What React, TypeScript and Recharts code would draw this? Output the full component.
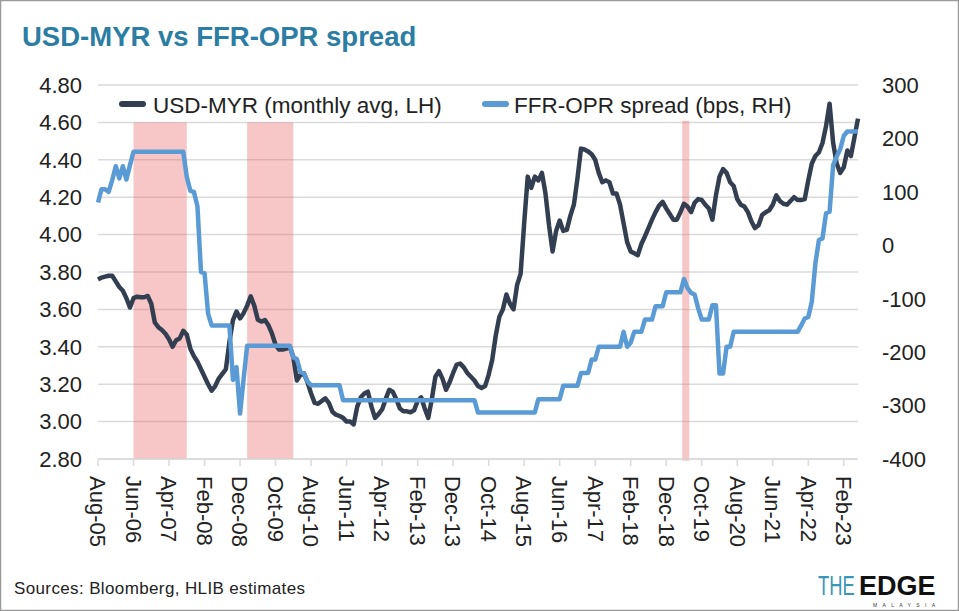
import { LineChart, Line, XAxis, YAxis, CartesianGrid, ReferenceArea } from "recharts";

const FONT = "'Liberation Sans', Arial, Helvetica, sans-serif";
const DARK = "#333f50";
const BLUE = "#5b9bd5";
const TEAL = "#2b7da3";
const TEXT = "#222222";
const GRID = "#dadada";
const SHADE = "#e86464";

// monthly categories, Aug-05 .. Jun-23
const monthNames = ["Jan", "Feb", "Mar", "Apr", "May", "Jun", "Jul", "Aug", "Sep", "Oct", "Nov", "Dec"];
const months: string[] = Array.from({ length: 215 }, (_, i) => {
  const m = (7 + i) % 12;
  const y = 5 + Math.floor((7 + i) / 12);
  return `${monthNames[m]}-${String(y).padStart(2, "0")}`;
});

// USD-MYR monthly average (left axis), one row per Aug..Jul year
const usdMyr = [
  3.76, 3.77, 3.775, 3.78, 3.78, 3.75, 3.72, 3.70, 3.66, 3.61, 3.66, 3.668,
  3.665, 3.665, 3.672, 3.63, 3.53, 3.505, 3.49, 3.47, 3.44, 3.40, 3.435, 3.445,
  3.485, 3.465, 3.39, 3.35, 3.32, 3.28, 3.24, 3.20, 3.165, 3.19, 3.23, 3.255,
  3.28, 3.426, 3.543, 3.588, 3.552, 3.58, 3.62, 3.67, 3.62, 3.545, 3.535, 3.543,
  3.515, 3.47, 3.41, 3.385, 3.385, 3.39, 3.40, 3.345, 3.22, 3.25, 3.258, 3.21,
  3.15, 3.10, 3.095, 3.11, 3.124, 3.10, 3.053, 3.037, 3.03, 3.02, 3.00, 3.00,
  2.985, 3.08, 3.13, 3.15, 3.16, 3.08, 3.02, 3.04, 3.065, 3.12, 3.17, 3.16,
  3.12, 3.07, 3.055, 3.055, 3.05, 3.06, 3.11, 3.13, 3.07, 3.02, 3.12, 3.24,
  3.27, 3.23, 3.17, 3.21, 3.26, 3.305, 3.31, 3.29, 3.26, 3.24, 3.22, 3.19,
  3.18, 3.19, 3.25, 3.33, 3.46, 3.56, 3.60, 3.68, 3.63, 3.60, 3.73, 3.79,
  4.06, 4.31, 4.25, 4.31, 4.29, 4.33, 4.22, 4.05, 3.91, 4.02, 4.075, 4.02,
  4.025, 4.10, 4.16, 4.30, 4.46, 4.455, 4.445, 4.43, 4.40, 4.33, 4.28, 4.29,
  4.28, 4.22, 4.22, 4.16, 4.06, 3.96, 3.91, 3.90, 3.89, 3.95, 3.99, 4.035,
  4.08, 4.12, 4.155, 4.175, 4.14, 4.11, 4.08, 4.08, 4.12, 4.165, 4.15, 4.12,
  4.17, 4.19, 4.185, 4.16, 4.14, 4.08, 4.21, 4.31, 4.35, 4.33, 4.28, 4.26,
  4.19, 4.16, 4.15, 4.12, 4.07, 4.035, 4.05, 4.105, 4.12, 4.13, 4.16, 4.21,
  4.18, 4.165, 4.16, 4.18, 4.20, 4.185, 4.185, 4.19, 4.29, 4.38, 4.42, 4.44,
  4.49, 4.58, 4.70, 4.49, 4.38, 4.33, 4.36, 4.45, 4.42, 4.52, 4.62,
];

// FFR-OPR spread in bps (right axis)
const ffrOprSpread = [
  80, 105, 105, 100, 122, 148, 125, 148, 123, 150, 175, 175,
  175, 175, 175, 175, 175, 175, 175, 175, 175, 175, 175, 175,
  175, 128, 102, 100, 73, -50, -52, -128, -150, -150, -150, -150,
  -150, -150, -252, -228, -315, -250, -188, -188, -188, -188, -188, -188,
  -188, -188, -188, -188, -188, -188, -188, -210, -213, -237, -240, -255,
  -262, -262, -262, -262, -262, -262, -262, -262, -262, -290, -290, -290,
  -290, -290, -290, -290, -290, -290, -290, -290, -290, -290, -290, -290,
  -290, -290, -290, -290, -290, -290, -290, -290, -290, -290, -290, -290,
  -290, -290, -290, -290, -290, -290, -290, -290, -290, -290, -290, -313,
  -313, -313, -313, -313, -313, -313, -313, -313, -313, -313, -313, -313,
  -313, -313, -313, -313, -288, -288, -288, -288, -288, -288, -288, -263,
  -263, -263, -263, -263, -239, -239, -239, -214, -214, -190, -190, -190,
  -190, -190, -190, -190, -162, -190, -182, -162, -162, -162, -139, -139,
  -139, -114, -114, -114, -88, -88, -88, -88, -88, -63, -80, -89,
  -92, -118, -139, -139, -139, -112, -112, -240, -240, -190, -190, -162,
  -162, -162, -162, -162, -162, -162, -162, -162, -162, -162, -162, -162,
  -162, -162, -162, -162, -162, -162, -150, -137, -134, -105, -34, 10,
  13, 60, 63, 150, 166, 180, 205, 213, 213, 213, 213,
];

const leftTicks = [2.8, 3.0, 3.2, 3.4, 3.6, 3.8, 4.0, 4.2, 4.4, 4.6, 4.8];
const rightTicks = [-400, -300, -200, -100, 0, 100, 200, 300];

// shaded periods (the narrow one is widened with a stroke)
const bands = [
  { from: "Jun-06", to: "Sep-07", narrow: false },
  { from: "Feb-09", to: "Mar-10", narrow: false },
  { from: "May-19", to: "Jun-19", narrow: true },
];

const data = months.map((month, i) => ({
  month,
  usdMyr: usdMyr[i],
  spread: ffrOprSpread[i],
}));

function MonthTick(props: any) {
  const { x, y, payload } = props;
  return (
    <text
      x={x}
      y={y}
      transform={`rotate(90 ${x} ${y})`}
      textAnchor="start"
      dy="0.35em"
      fill={TEXT}
      fontSize={22}
      fontFamily={FONT}
    >
      {payload.value}
    </text>
  );
}

export default function App() {
  return (
    <div style={{ position: "absolute", left: 0, top: 0, width: 959, height: 611, background: "#fff", overflow: "hidden" }}>
      <LineChart
        width={959}
        height={611}
        data={data}
        margin={{ top: 85, right: 0, bottom: 0, left: 0 }}
        style={{ position: "absolute", left: 0, top: 0 }}
      >
        <CartesianGrid yAxisId="left" vertical={false} stroke={GRID} strokeWidth={1.5} />
        <XAxis
          dataKey="month"
          interval={9}
          height={152}
          tickSize={7}
          tickMargin={10}
          tick={MonthTick}
          axisLine={{ stroke: GRID, strokeWidth: 1.5 }}
          tickLine={{ stroke: GRID, strokeWidth: 1.5 }}
        />
        <YAxis
          yAxisId="left"
          type="number"
          width={98}
          domain={[2.8, 4.8]}
          ticks={leftTicks}
          tickFormatter={(v: number) => v.toFixed(2)}
          axisLine={false}
          tickLine={false}
          tickMargin={10}
          tick={{ fill: TEXT, fontSize: 22, fontFamily: FONT }}
          allowDataOverflow
        />
        <YAxis
          yAxisId="right"
          orientation="right"
          type="number"
          width={101}
          domain={[-400, 300]}
          ticks={rightTicks}
          axisLine={false}
          tickLine={false}
          tickMargin={18}
          tick={{ fill: TEXT, fontSize: 22, fontFamily: FONT }}
          allowDataOverflow
        />
        {bands.map((b) => (
          <ReferenceArea
            key={b.from}
            yAxisId="left"
            x1={b.from}
            x2={b.to}
            y1={2.8}
            y2={4.6}
            fill={SHADE}
            fillOpacity={b.narrow ? 0 : 0.37}
            stroke={SHADE}
            strokeOpacity={b.narrow ? 0.37 : 0}
            strokeWidth={b.narrow ? 3.5 : 0}
          />
        ))}
        <Line
          yAxisId="left"
          type="linear"
          dataKey="usdMyr"
          stroke={DARK}
          strokeWidth={4.5}
          strokeLinejoin="round"
          dot={false}
          activeDot={false}
          isAnimationActive={false}
        />
        <Line
          yAxisId="right"
          type="linear"
          dataKey="spread"
          stroke={BLUE}
          strokeWidth={4.5}
          strokeLinejoin="round"
          dot={false}
          activeDot={false}
          isAnimationActive={false}
        />
      </LineChart>

      <svg width={959} height={611} style={{ position: "absolute", left: 0, top: 0, pointerEvents: "none" }}>
        <text x={22} y={46} fill={TEAL} fontSize={27.5} fontWeight={700} fontFamily={FONT}>
          USD-MYR vs FFR-OPR spread
        </text>

        <line x1={122} y1={104} x2={143} y2={104} stroke={DARK} strokeWidth={6} strokeLinecap="round" />
        <text x={153} y={113} fill={TEXT} fontSize={22.5} fontFamily={FONT}>
          USD-MYR (monthly avg, LH)
        </text>
        <line x1={485} y1={104} x2={506} y2={104} stroke={BLUE} strokeWidth={6} strokeLinecap="round" />
        <text x={514} y={113} fill={TEXT} fontSize={22.5} fontFamily={FONT}>
          FFR-OPR spread (bps, RH)
        </text>

        <text x={14} y={594} fill={TEXT} fontSize={17} fontFamily={FONT} textLength={291}>
          Sources: Bloomberg, HLIB estimates
        </text>

        <text transform="translate(818 595) scale(0.68 1)" fontSize={27} fontFamily={FONT} fill="#3a96b6">
          THE
        </text>
        <text x={859} y={595} fontSize={27} fontFamily={FONT} fill="#111" fontWeight={900}>
          EDGE
        </text>
        <text x={873} y={607} fontSize={5} fontFamily={FONT} fill="#333" textLength={62}>
          MALAYSIA
        </text>

        <rect x={0.5} y={0.5} width={958} height={610} fill="none" stroke="#9a9a9a" strokeWidth={1.5} />
      </svg>
    </div>
  );
}
